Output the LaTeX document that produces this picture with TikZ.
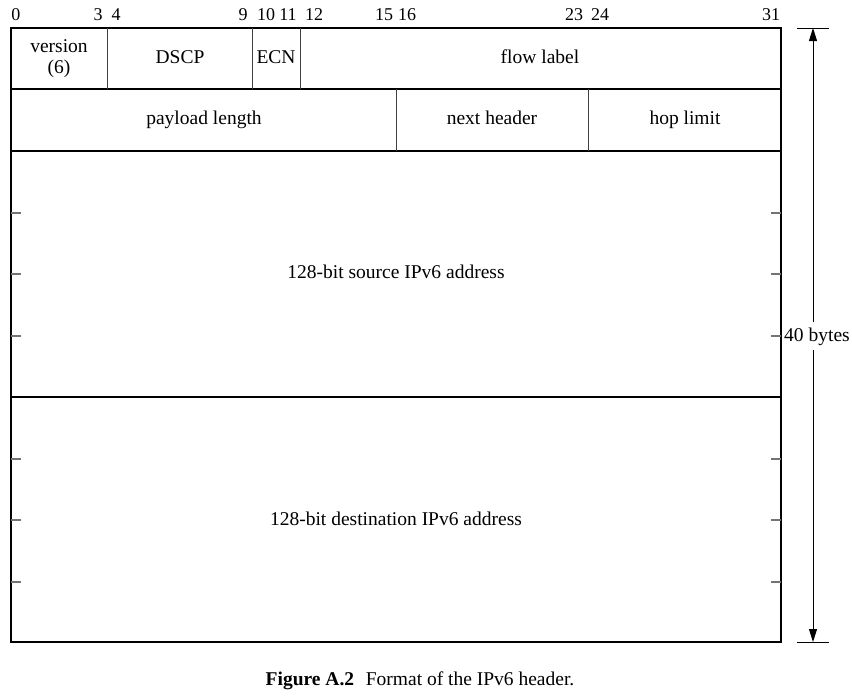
\documentclass[tikz,border=0pt]{standalone}
\usepackage{fontspec}
\setmainfont{Liberation Serif}
\usetikzlibrary{arrows.meta}
\begin{document}
\begin{tikzpicture}[x=1pt,y=-1pt,
  frame/.style={line width=1.2pt,black},
  divider/.style={line width=1pt,black!75},
  tick/.style={line width=1.3pt,black!55},
  fieldtxt/.style={font=\fontsize{19.5}{21}\selectfont,inner sep=0pt,anchor=base},
  bitnum/.style={font=\fontsize{18}{20}\selectfont,inner sep=0pt,anchor=base},
  dimline/.style={line width=0.9pt,black},
  arr/.style={-{Triangle[length=13pt,width=8pt]}}]
\useasboundingbox (0,0) rectangle (852,697);
% bit numbers
\foreach \n/\x in {0/16,3/98,4/116,9/243,10/266,11/288,12/314,15/384,16/407,23/574,24/600,31/771}
  \node[bitnum] (b\n) at (\x,20.5) {\n};
% outer frame and rows
\draw[frame] (11,28) rectangle (781,642);
\draw[frame] (11,89) -- (781,89);
\draw[frame] (11,151) -- (781,151);
\draw[frame] (11,397) -- (781,397);
% row dividers
\draw[divider] (107.2,28) -- (107.2,89);
\draw[divider] (252.5,28) -- (252.5,89);
\draw[divider] (300.6,28) -- (300.6,89);
\draw[divider] (396,89) -- (396,151);
\draw[divider] (588.5,89) -- (588.5,151);
% ticks
\foreach \y in {213,274,336,459,520,582} {
  \draw[tick] (11,\y) -- (21,\y);
  \draw[tick] (771,\y) -- (781,\y);
}
% field texts
\node[fieldtxt] (version) at (59,52.5) {version};
\node[fieldtxt] (version6) at (59,73) {(6)};
\node[fieldtxt] (dscp) at (180,63) {DSCP};
\node[fieldtxt] (ecn) at (276,63) {ECN};
\node[fieldtxt] (flow) at (540,63) {flow label};
\node[fieldtxt] (payload) at (204,124.5) {payload length};
\node[fieldtxt] (next) at (492,124.5) {next header};
\node[fieldtxt] (hop) at (685,124.5) {hop limit};
\node[fieldtxt] (src) at (396,278) {128-bit source IPv6 address};
\node[fieldtxt] (dst) at (396,525) {128-bit destination IPv6 address};
% dimension
\draw[dimline] (797,28) -- (829,28);
\draw[dimline] (797,642) -- (829,642);
\coordinate (ttop) at (813,28);
\coordinate (tbot) at (813,642);
\node[fieldtxt,fill=white,inner xsep=1pt,inner ysep=5pt] (len) at (817,341) {40 bytes};
\draw[dimline,arr] (len.north -| ttop) -- (ttop);
\draw[dimline,arr] (len.south -| tbot) -- (tbot);
% caption
\node[font=\fontsize{19.5}{21}\selectfont,inner sep=0pt,anchor=base] (cap) at (420,685) {\textbf{Figure A.2}\hspace{0.6em}Format of the IPv6 header.};
\end{tikzpicture}
\end{document}
